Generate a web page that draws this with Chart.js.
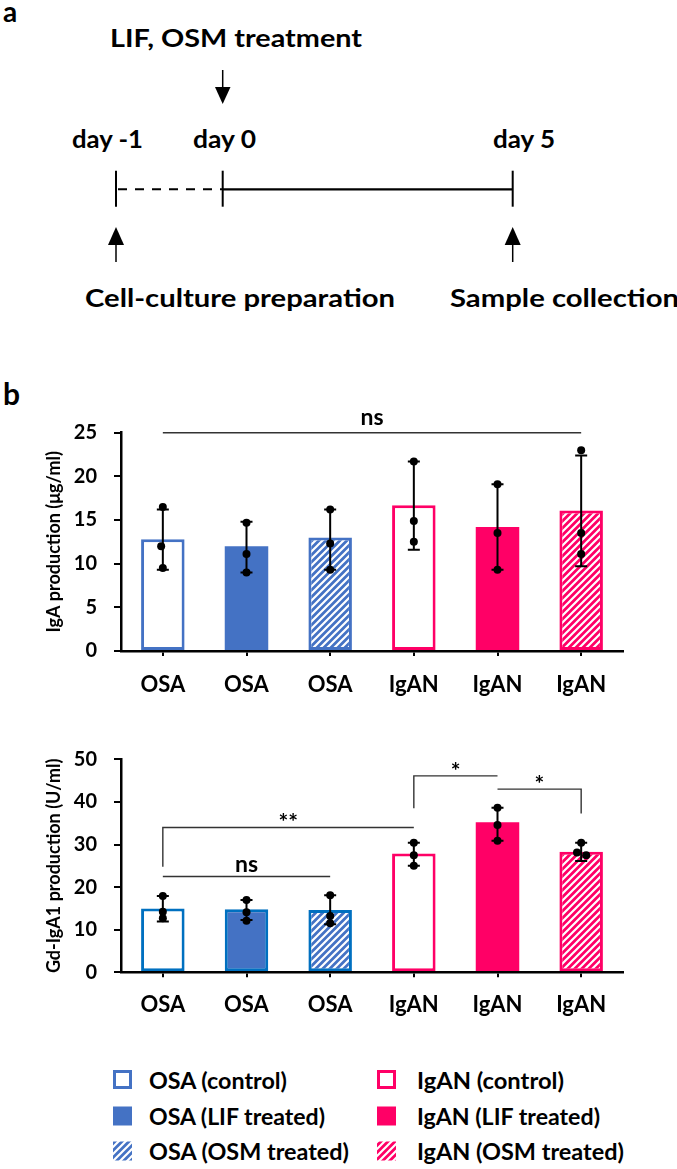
<!DOCTYPE html>
<html>
<head>
<meta charset="utf-8">
<script src="https://cdn.jsdelivr.net/npm/chart.js@4.4.1/dist/chart.umd.min.js"></script>
<style>
  body { margin: 0; background: #fff; }
  #page { position: relative; width: 677px; height: 1169px; overflow: hidden; background: #fff; }
  #page svg, #page canvas { position: absolute; left: 0; }
  svg text { font-family: Lato, sans-serif; font-weight: bold; fill: #000; }
</style>
</head>
<body>
<div id="page">
  <svg id="art" width="677" height="1169" style="top:0">
    <defs>
      <pattern id="hatchBlue" width="7" height="7" patternUnits="userSpaceOnUse">
        <rect width="7" height="7" fill="#4472C4"/>
        <path d="M0,7 L7,0 M-3.5,3.5 L3.5,-3.5 M3.5,10.5 L10.5,3.5" stroke="#fff" stroke-width="2.2"/>
      </pattern>
      <pattern id="hatchPink" width="7" height="7" patternUnits="userSpaceOnUse">
        <rect width="7" height="7" fill="#FF0066"/>
        <path d="M0,7 L7,0 M-3.5,3.5 L3.5,-3.5 M3.5,10.5 L10.5,3.5" stroke="#fff" stroke-width="2.2"/>
      </pattern>
    </defs>

    <!-- panel a: timeline -->
    <text x="3" y="22" font-size="28">a</text>
    <text x="110" y="46.5" font-size="25" textLength="252" lengthAdjust="spacingAndGlyphs">LIF, OSM treatment</text>
    <line x1="222.7" y1="70" x2="222.7" y2="90" stroke="#000" stroke-width="1.5"/>
    <polygon points="215,87 230.5,87 222.7,104" fill="#000"/>

    <text x="72" y="148" font-size="24" textLength="71" lengthAdjust="spacingAndGlyphs">day -1</text>
    <text x="193" y="148" font-size="24" textLength="63" lengthAdjust="spacingAndGlyphs">day 0</text>
    <text x="493" y="148" font-size="24" textLength="62" lengthAdjust="spacingAndGlyphs">day 5</text>

    <line x1="116" y1="170.7" x2="116" y2="206.7" stroke="#000" stroke-width="2"/>
    <line x1="222.7" y1="170.7" x2="222.7" y2="206.7" stroke="#000" stroke-width="2"/>
    <line x1="512.7" y1="170.7" x2="512.7" y2="206.7" stroke="#000" stroke-width="2"/>
    <line x1="118" y1="189.3" x2="222" y2="189.3" stroke="#000" stroke-width="2" stroke-dasharray="9 8"/>
    <line x1="222.7" y1="189.3" x2="512.7" y2="189.3" stroke="#000" stroke-width="2.2"/>

    <line x1="116" y1="243" x2="116" y2="262" stroke="#000" stroke-width="1.5"/>
    <polygon points="108,245 124,245 116,227" fill="#000"/>
    <line x1="512.7" y1="243" x2="512.7" y2="262" stroke="#000" stroke-width="1.5"/>
    <polygon points="504.7,245 520.7,245 512.7,227" fill="#000"/>

    <text x="85" y="306.7" font-size="24" textLength="310" lengthAdjust="spacingAndGlyphs">Cell-culture preparation</text>
    <text x="450" y="306.7" font-size="24" textLength="229" lengthAdjust="spacingAndGlyphs">Sample collection</text>

    <!-- panel b label -->
    <text x="3" y="405" font-size="30">b</text>

    <!-- legend -->
    <rect x="114.5" y="1071.5" width="16" height="16" fill="#fff" stroke="#4472C4" stroke-width="3"/>
    <rect x="113" y="1106.5" width="19" height="19" fill="#4472C4"/>
    <rect x="113" y="1141.5" width="19" height="19" fill="url(#hatchBlue)"/>
    <rect x="378.5" y="1071.5" width="16" height="16" fill="#fff" stroke="#FF0066" stroke-width="3"/>
    <rect x="377" y="1106.5" width="19" height="19" fill="#FF0066"/>
    <rect x="377" y="1141.5" width="19" height="19" fill="url(#hatchPink)"/>

    <text x="149" y="1088.5" font-size="22" textLength="138" lengthAdjust="spacingAndGlyphs">OSA (control)</text>
    <text x="149" y="1124.5" font-size="22" textLength="176" lengthAdjust="spacingAndGlyphs">OSA (LIF treated)</text>
    <text x="149" y="1159.5" font-size="22" textLength="200" lengthAdjust="spacingAndGlyphs">OSA (OSM treated)</text>
    <text x="417" y="1088.5" font-size="22" textLength="147" lengthAdjust="spacingAndGlyphs">IgAN (control)</text>
    <text x="417" y="1124.5" font-size="22" textLength="183" lengthAdjust="spacingAndGlyphs">IgAN (LIF treated)</text>
    <text x="417" y="1159.5" font-size="22" textLength="207" lengthAdjust="spacingAndGlyphs">IgAN (OSM treated)</text>
  </svg>

  <canvas id="igaChart" width="677" height="320" style="top:380px"></canvas>
  <canvas id="gdChart" width="677" height="340" style="top:700px"></canvas>
</div>

<script>
// categories and tick labels
const groups = ['OSA', 'OSA', 'OSA', 'IgAN', 'IgAN', 'IgAN'];
const igaTicks = [0, 5, 10, 15, 20, 25];
const gdTicks = [0, 10, 20, 30, 40, 50];

// IgA production (ug/ml)
const igaMean = [12.8, 12.0, 13.0, 16.7, 14.2, 16.1];
const igaLow = [9.3, 9.0, 9.3, 11.6, 9.3, 9.7];
const igaHigh = [16.2, 14.8, 16.2, 21.7, 19.1, 22.4];
const igaPoints = [
  [16.5, 12.0, 9.5],
  [14.7, 11.1, 9.0],
  [16.2, 12.3, 9.3],
  [21.7, 14.9, 12.5],
  [19.1, 13.5, 9.3],
  [23.0, 13.5, 11.1]
];
const igaPointShift = [
  [0, -0.02, 0], [0, 0, 0], [0, 0, 0], [0, 0, 0], [0, 0, 0], [0, 0, 0]
];

// Gd-IgA1 production (U/ml)
const gdMean = [15.0, 14.8, 14.6, 27.9, 35.2, 28.3];
const gdLow = [11.9, 12.3, 11.3, 25.0, 30.9, 26.1];
const gdHigh = [17.9, 17.0, 18.1, 30.4, 38.6, 30.4];
const gdPoints = [
  [17.9, 14.2, 12.7],
  [17.0, 14.1, 12.1],
  [18.1, 13.2, 11.5],
  [30.4, 27.5, 25.0],
  [38.6, 34.6, 30.9],
  [30.4, 28.1, 27.5]
];
const gdPointShift = [
  [0, 0, 0], [0, 0, 0], [0, 0, 0], [0, 0, 0], [0, 0, 0], [0, -0.05, 0.06]
];

// significance brackets: category indexes, line value, optional leg ends
const igaBrackets = [
  { from: 0, to: 5, y: 25, label: 'ns' }
];
const gdBrackets = [
  { from: 0, to: 2, y: 22.5, label: 'ns' },
  { from: 0, to: 3, y: 34, leftTo: 24.8, label: '**' },
  { from: 3, to: 4, y: 46.1, leftTo: 38.5, label: '*' },
  { from: 4, to: 5, y: 43, rightTo: 37.3, label: '*' }
];

const BLUE = '#4472C4';
const BLUE_EDGE = '#0070C0';
const PINK = '#FF0066';
const FONT = 'Lato, sans-serif';

function hatch(ctx, color) {
  const tile = document.createElement('canvas');
  tile.width = 7; tile.height = 7;
  const g = tile.getContext('2d');
  g.fillStyle = color;
  g.fillRect(0, 0, 7, 7);
  g.strokeStyle = '#fff';
  g.lineWidth = 2.2;
  g.beginPath();
  g.moveTo(0, 7); g.lineTo(7, 0);
  g.moveTo(-3.5, 3.5); g.lineTo(3.5, -3.5);
  g.moveTo(3.5, 10.5); g.lineTo(10.5, 3.5);
  g.stroke();
  return ctx.createPattern(tile, 'repeat');
}

function errorBars(low, high) {
  return {
    id: 'errorBars',
    afterDatasetDraw(chart, args) {
      if (args.meta.type !== 'bar') return;
      const ctx = chart.ctx, y = chart.scales.y;
      ctx.save();
      ctx.strokeStyle = '#000';
      ctx.lineWidth = 2;
      args.meta.data.forEach((bar, i) => {
        const top = y.getPixelForValue(high[i]);
        const bot = y.getPixelForValue(low[i]);
        ctx.beginPath();
        ctx.moveTo(bar.x, top); ctx.lineTo(bar.x, bot);
        ctx.moveTo(bar.x - 6, top); ctx.lineTo(bar.x + 6, top);
        ctx.moveTo(bar.x - 6, bot); ctx.lineTo(bar.x + 6, bot);
        ctx.stroke();
      });
      ctx.restore();
    }
  };
}

function brackets(list, gap) {
  return {
    id: 'brackets',
    afterDatasetsDraw(chart) {
      const ctx = chart.ctx, x = chart.scales.x, y = chart.scales.y;
      ctx.save();
      ctx.strokeStyle = '#333';
      ctx.lineWidth = 1.4;
      ctx.fillStyle = '#000';
      ctx.font = 'bold 23px ' + FONT;
      ctx.textAlign = 'center';
      ctx.textBaseline = 'alphabetic';
      list.forEach(b => {
        const x1 = x.getPixelForValue(b.from), x2 = x.getPixelForValue(b.to);
        const yy = y.getPixelForValue(b.y);
        ctx.beginPath();
        if (b.leftTo != null) {
          ctx.moveTo(x1, y.getPixelForValue(b.leftTo));
          ctx.lineTo(x1, yy);
        } else {
          ctx.moveTo(x1, yy);
        }
        ctx.lineTo(x2, yy);
        if (b.rightTo != null) ctx.lineTo(x2, y.getPixelForValue(b.rightTo));
        ctx.stroke();
        const m = ctx.measureText(b.label);
        const inkMid = (m.actualBoundingBoxAscent - m.actualBoundingBoxDescent) / 2;
        ctx.fillText(b.label, (x1 + x2) / 2, yy - gap + inkMid);
      });
      ctx.restore();
    }
  };
}

function buildChart(canvasId, o) {
  const ctx = document.getElementById(canvasId).getContext('2d');
  const pts = [];
  o.points.forEach((vals, i) => {
    vals.forEach((v, j) => pts.push({ x: i + o.shift[i][j], y: v }));
  });
  return new Chart(ctx, {
    type: 'bar',
    data: {
      labels: groups,
      datasets: [
        {
          type: 'bar',
          data: o.mean,
          backgroundColor: ['#fff', BLUE, hatch(ctx, BLUE), '#fff', PINK, hatch(ctx, PINK)],
          borderColor: o.edges,
          borderWidth: o.widths,
          borderSkipped: false,
          grouped: false,
          categoryPercentage: 1,
          barPercentage: 0.52,
          order: 2
        },
        {
          type: 'scatter',
          xAxisID: 'xp',
          data: pts,
          pointRadius: 4,
          pointBackgroundColor: '#000',
          pointBorderWidth: 0,
          order: 1
        }
      ]
    },
    options: {
      responsive: false,
      animation: false,
      layout: { padding: { top: o.padTop, right: 54, left: 0, bottom: 0 } },
      plugins: { legend: { display: false }, tooltip: { enabled: false } },
      scales: {
        x: {
          grid: { offset: false, drawOnChartArea: false, drawTicks: true, tickLength: 5, color: '#000', lineWidth: 2 },
          border: { display: true, color: '#000', width: 2.5, z: 1 },
          ticks: { color: '#000', font: { family: FONT, size: 22, weight: 'bold' }, padding: o.xPad, maxRotation: 0, autoSkip: false },
          afterFit(s) { s.height = o.xHeight; }
        },
        xp: { type: 'linear', min: -0.5, max: 5.5, offset: false, display: false, grid: { offset: false } },
        y: {
          min: o.ticks[0],
          max: o.ticks[o.ticks.length - 1],
          ticks: { stepSize: o.ticks[1] - o.ticks[0], color: '#000', font: { family: FONT, size: 20, weight: 'bold' }, padding: 17 },
          grid: { drawOnChartArea: false, drawTicks: true, tickLength: 7, color: '#000', lineWidth: 2 },
          border: { display: true, color: '#000', width: 2.5 },
          title: { display: true, text: o.title, color: '#000', font: { family: FONT, size: o.titleSize, weight: 'bold' }, padding: { top: 43, bottom: 0 } },
          afterFit(s) { s.width = 121; }
        }
      }
    },
    plugins: [errorBars(o.low, o.high), brackets(o.brackets, o.gap)]
  });
}

buildChart('igaChart', {
  mean: igaMean, low: igaLow, high: igaHigh, points: igaPoints, shift: igaPointShift,
  ticks: igaTicks, brackets: igaBrackets, gap: 14,
  title: 'IgA production (\u03bcg/ml)', titleSize: 18,
  edges: [BLUE, BLUE, BLUE, PINK, PINK, PINK],
  widths: [3, 0, 3, 3, 0, 3],
  padTop: 52.7, xHeight: 49, xPad: 16
});

buildChart('gdChart', {
  mean: gdMean, low: gdLow, high: gdHigh, points: gdPoints, shift: gdPointShift,
  ticks: gdTicks, brackets: gdBrackets, gap: 10,
  title: 'Gd-IgA1 production (U/ml)', titleSize: 18,
  edges: [BLUE_EDGE, BLUE_EDGE, BLUE_EDGE, PINK, PINK, PINK],
  widths: [3, 3, 3, 3, 0, 3],
  padTop: 59.3, xHeight: 67.7, xPad: 14.5
});
</script>
</body>
</html>
